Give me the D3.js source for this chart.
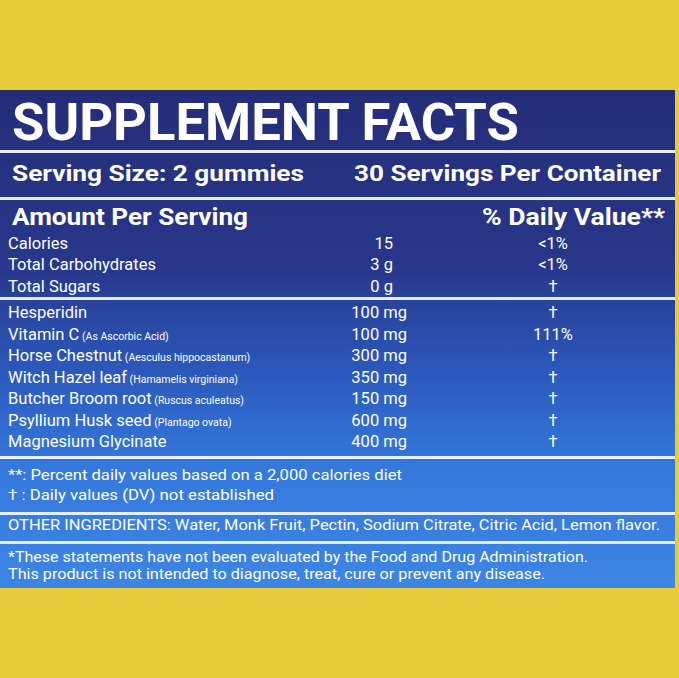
<!DOCTYPE html>
<html><head><meta charset="utf-8">
<script src="https://cdn.jsdelivr.net/npm/d3@7"></script>
<style>body{margin:0;background:#e8cb3b}svg{display:block}</style></head>
<body><script>
const topNames=["Calories","Total Carbohydrates","Total Sugars"];
const topAmounts=["15","3 g","0 g"];
const topDV=["<1%","<1%","†"];
const ingNames=["Hesperidin","Vitamin C","Horse Chestnut","Witch Hazel leaf","Butcher Broom root","Psyllium Husk seed","Magnesium Glycinate"];
const ingLatin=["","(As Ascorbic Acid)","(Aesculus hippocastanum)","(Hamamelis virginiana)","(Ruscus aculeatus)","(Plantago ovata)",""];
const ingAmounts=["100 mg","100 mg","300 mg","350 mg","150 mg","600 mg","400 mg"];
const ingDV=["†","111%","†","†","†","†","†"];

const W=679,H=678,F="Roboto, 'Liberation Sans', sans-serif";
const svg=d3.select("body").append("svg").attr("width",W).attr("height",H);
const defs=svg.append("defs");
const g=defs.append("linearGradient").attr("id","bg").attr("x1",0).attr("y1",0).attr("x2",0).attr("y2",1);
[[0,"#252d78"],[0.35,"#28378a"],[0.55,"#2b56b8"],[0.75,"#3478dc"],[1,"#3d85e3"]].forEach(([o,c])=>g.append("stop").attr("offset",o).attr("stop-color",c));
svg.append("rect").attr("width",W).attr("height",H).attr("fill","#e8cb3b");
svg.append("rect").attr("x",0).attr("y",90).attr("width",675).attr("height",498).attr("fill","url(#bg)");
[150,197,297,456,512,541].forEach(y=>svg.append("rect").attr("x",0).attr("y",y).attr("width",675).attr("height",3).attr("fill","#e6eefc"));

function t(x,y,s,size,opt={}){const e=svg.append("text").attr("x",x).attr("y",y).attr("fill","#fff")
 .attr("font-family",F).attr("font-size",size).attr("font-weight",opt.w||400).attr("text-anchor",opt.a||"start").text(s);
 if(opt.len){e.attr("textLength",opt.len).attr("lengthAdjust","spacingAndGlyphs");}return e;}

t(12,140,"SUPPLEMENT FACTS",52,{w:700,len:507});
t(12,181,"Serving Size: 2 gummies",22,{w:700,len:292});
t(354,181,"30 Servings Per Container",22,{w:700,len:307});
t(12,225,"Amount Per Serving",24,{w:700,len:236});
t(482,225,"% Daily Value**",24,{w:700,len:183});

const yTop=d3.scaleBand().domain(topNames).range([231,296]);
const yIng=d3.scaleBand().domain(ingNames).range([301,451]);
const amtX=393, dvX=553;
topNames.forEach((n,i)=>{const y=yTop(n)+yTop.bandwidth()-4;
 t(8,y,n,16.5);t(amtX,y,topAmounts[i],16.5,{a:"end"});t(dvX,y,topDV[i],16.5,{a:"middle"});});
ingNames.forEach((n,i)=>{const y=yIng(n)+yIng.bandwidth()-4;
 const e=t(8,y,n,16.5);
 if(ingLatin[i]) e.append("tspan").attr("font-size",10.5).text(" "+ingLatin[i]);
 t(407,y,ingAmounts[i],16.5,{a:"end"});t(dvX,y,ingDV[i],16.5,{a:"middle"});});

t(8,480,"**: Percent daily values based on a 2,000 calories diet",15.5,{len:394});
t(8,500,"† : Daily values (DV) not established",15.5,{len:266});
t(8,530,"OTHER INGREDIENTS: Water, Monk Fruit, Pectin, Sodium Citrate, Citric Acid, Lemon flavor.",15,{len:652});
t(8,562,"*These statements have not been evaluated by the Food and Drug Administration.",14.5,{len:580});
t(8,579,"This product is not intended to diagnose, treat, cure or prevent any disease.",14.5,{len:537});
</script></body></html>
